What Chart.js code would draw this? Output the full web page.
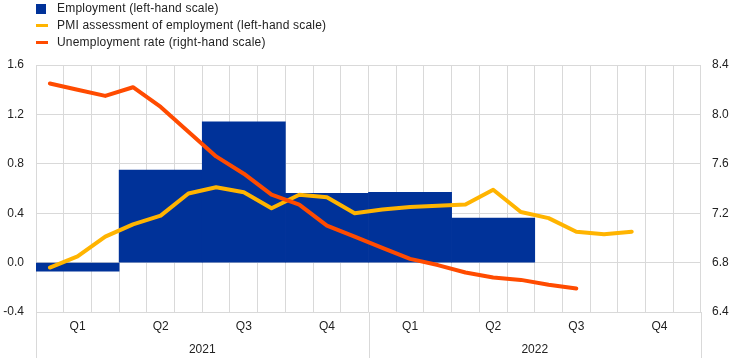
<!DOCTYPE html>
<html>
<head>
<meta charset="utf-8">
<script src="https://cdn.jsdelivr.net/npm/chart.js@4/dist/chart.umd.min.js"></script>
<style>
  html, body { margin: 0; padding: 0; background: #fff; }
  #wrap { position: relative; width: 744px; height: 361px; }
  #legend { position: absolute; left: 0; top: 0; font-family: 'Liberation Sans', Arial, sans-serif; font-size: 12px; letter-spacing: 0.2px; color: #222; }
  .row { position: absolute; left: 0; height: 17px; white-space: nowrap; }
  .sw { position: absolute; left: 36px; }
  .tx { position: absolute; left: 57px; line-height: 17px; top: 0; }
</style>
</head>
<body>
<div id="wrap">
  <canvas id="c" width="744" height="361"></canvas>
  <div id="legend"></div>
</div>
<script>
// ---- data ----
const months = ['Jan 21','Feb 21','Mar 21','Apr 21','May 21','Jun 21','Jul 21','Aug 21','Sep 21','Oct 21','Nov 21','Dec 21',
                'Jan 22','Feb 22','Mar 22','Apr 22','May 22','Jun 22','Jul 22','Aug 22','Sep 22','Oct 22','Nov 22','Dec 22'];
const quarters = ['Q1','Q2','Q3','Q4','Q1','Q2','Q3','Q4'];
const years = ['2021','2022'];
const employment = [-0.07, 0.75, 1.14, 0.56, 0.57, 0.36, null, null];
const pmiEmployment = [-0.04, 0.05, 0.21, 0.31, 0.38, 0.56, 0.61, 0.57, 0.44, 0.55, 0.53, 0.40,
                       0.43, 0.45, 0.46, 0.47, 0.59, 0.41, 0.36, 0.25, 0.23, 0.25, null, null];
const unemployment = [8.25, 8.20, 8.15, 8.22, 8.06, 7.86, 7.66, 7.52, 7.35, 7.27, 7.10, 7.01,
                      6.92, 6.83, 6.78, 6.72, 6.68, 6.66, 6.62, 6.59, null, null, null, null];
const seriesNames = ['Employment (left-hand scale)', 'PMI assessment of employment (left-hand scale)', 'Unemployment rate (right-hand scale)'];
const colors = ['#003299', '#ffb400', '#ff4b00'];

// ---- legend (HTML text) ----
const lg = document.getElementById('legend');
seriesNames.forEach((n, i) => {
  const r = document.createElement('div');
  r.className = 'row';
  r.style.top = (i * 17) + 'px';
  const s = document.createElement('div');
  s.className = 'sw';
  s.style.background = colors[i];
  if (i === 0) { s.style.width = '10px'; s.style.height = '10px'; s.style.top = '4px'; }
  else { s.style.width = '12px'; s.style.height = '3px'; s.style.top = '7px'; }
  const t = document.createElement('div');
  t.className = 'tx';
  t.textContent = n;
  r.appendChild(s); r.appendChild(t);
  lg.appendChild(r);
});

const FONT = { family: "'Liberation Sans', Arial, sans-serif", size: 12 };
const GRID = '#d9d9d9';

const yearLines = {
  id: 'yearLines',
  afterDraw(chart) {
    const s = chart.scales.x3;
    const ctx = chart.ctx;
    const xs = [s.left, (s.getPixelForTick(0) + s.getPixelForTick(1)) / 2, s.right];
    ctx.save();
    ctx.strokeStyle = GRID;
    ctx.lineWidth = 1;
    xs.forEach(x => {
      const px = Math.round(x) + 0.5;
      ctx.beginPath();
      ctx.moveTo(px, chart.chartArea.bottom);
      ctx.lineTo(px, chart.chartArea.bottom + 46);
      ctx.stroke();
    });
    ctx.restore();
  }
};

new Chart(document.getElementById('c'), {
  data: {
    labels: months,
    datasets: [
      { type: 'line', label: seriesNames[2], data: unemployment, xAxisID: 'x', yAxisID: 'y2',
        borderColor: colors[2], borderWidth: 4, pointRadius: 0, tension: 0, order: 1,
        borderCapStyle: 'round', borderJoinStyle: 'round', spanGaps: false },
      { type: 'line', label: seriesNames[1], data: pmiEmployment, xAxisID: 'x', yAxisID: 'y',
        borderColor: colors[1], borderWidth: 4, pointRadius: 0, tension: 0, order: 2,
        borderCapStyle: 'round', borderJoinStyle: 'round' },
      { type: 'bar', label: seriesNames[0], data: employment, xAxisID: 'x2', yAxisID: 'y',
        backgroundColor: colors[0], borderWidth: 0, grouped: false,
        categoryPercentage: 1, barPercentage: 1, order: 3 }
    ]
  },
  options: {
    responsive: false,
    devicePixelRatio: 1,
    animation: false,
    layout: { padding: { top: 65, left: 0, right: 0, bottom: 0 } },
    plugins: { legend: { display: false }, tooltip: { enabled: false } },
    scales: {
      x: {
        type: 'category', position: 'bottom', offset: true, weight: 0,
        grid: { color: GRID, offset: true, drawTicks: false },
        border: { display: false },
        ticks: { display: false },
        afterFit(s) { s.height = 0; }
      },
      x2: {
        type: 'category', labels: quarters, position: 'bottom', offset: true, weight: 1,
        grid: { display: false, drawTicks: false },
        border: { display: false },
        ticks: { font: FONT, color: '#222', padding: 7, maxRotation: 0, autoSkip: false },
        afterFit(s) { s.height = 30; }
      },
      x3: {
        type: 'category', labels: years, position: 'bottom', offset: true, weight: 2,
        grid: { display: false, drawTicks: false },
        border: { display: false },
        ticks: { font: FONT, color: '#222', padding: 0, maxRotation: 0, autoSkip: false },
        afterFit(s) { s.height = 19; }
      },
      y: {
        position: 'left', min: -0.4, max: 1.6,
        grid: { color: GRID, drawTicks: false },
        border: { display: false },
        ticks: { stepSize: 0.4, font: FONT, color: '#222', padding: 12,
                 callback: v => (Math.round(v * 10) / 10).toFixed(1) },
        afterFit(s) { s.width = 36; }
      },
      y2: {
        position: 'right', min: 6.4, max: 8.4,
        grid: { drawOnChartArea: false, drawTicks: false },
        border: { display: false },
        ticks: { stepSize: 0.4, font: FONT, color: '#222', padding: 11,
                 callback: v => (Math.round(v * 10) / 10).toFixed(1) },
        afterFit(s) { s.width = 43; }
      }
    }
  },
  plugins: [yearLines]
});
</script>
</body>
</html>
